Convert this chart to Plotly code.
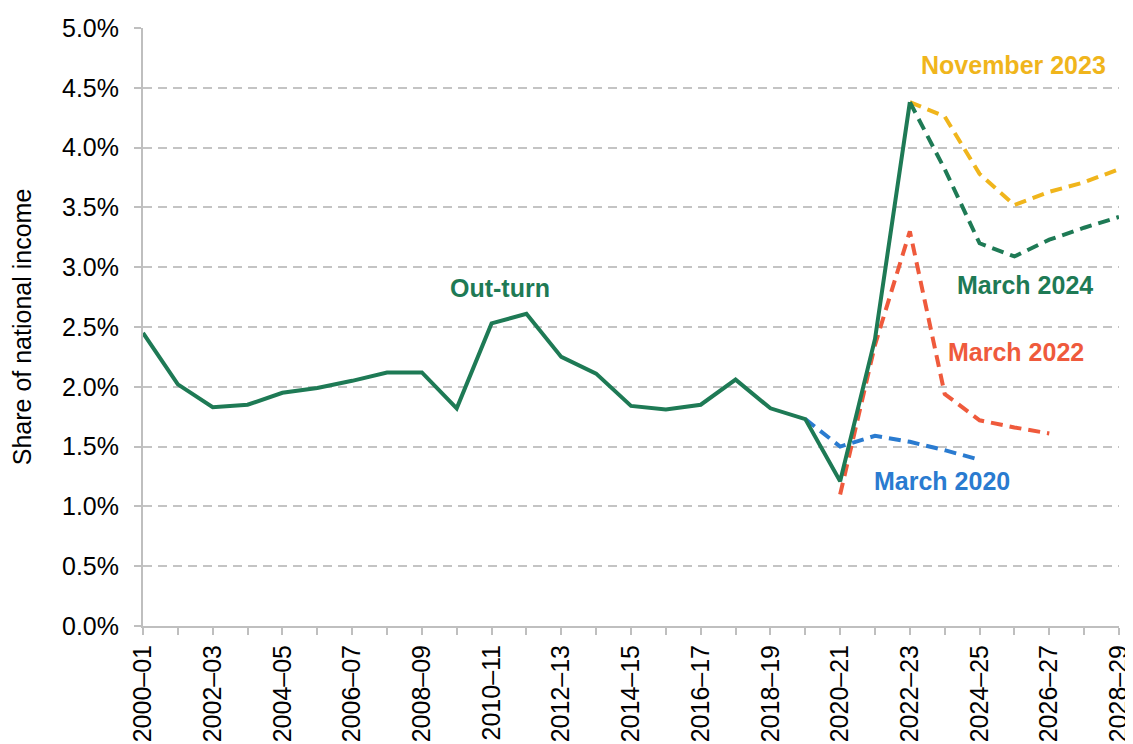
import plotly.graph_objects as go

years = [f"{y}–{str(y + 1)[-2:]}" for y in range(2000, 2029)]

outturn = [2.45, 2.02, 1.83, 1.85, 1.95, 1.99, 2.05, 2.12, 2.12, 1.82,
           2.53, 2.61, 2.25, 2.11, 1.84, 1.81, 1.85, 2.06, 1.82, 1.73,
           1.21, 2.40, 4.38]

march2020_years = years[19:25]
march2020 = [1.73, 1.50, 1.59, 1.54, 1.47, 1.39]

march2022_years = years[20:27]
march2022 = [1.10, 2.35, 3.30, 1.94, 1.72, 1.66, 1.61]

nov2023_years = years[22:29]
nov2023 = [4.38, 4.26, 3.78, 3.52, 3.63, 3.71, 3.82]

march2024_years = years[22:29]
march2024 = [4.38, 3.82, 3.20, 3.09, 3.23, 3.33, 3.42]

GREEN = "#1e7a55"
BLUE = "#2a7bd0"
RED = "#ef5a3c"
YELLOW = "#f0b51c"

idx = {y: i for i, y in enumerate(years)}

fig = go.Figure()


def add_line(xs, ys, color, dash):
    fig.add_trace(go.Scatter(
        x=[idx[x] for x in xs], y=ys, mode="lines",
        line=dict(color=color, width=4, dash=dash),
        showlegend=False, hoverinfo="skip"
    ))


add_line(march2020_years, march2020, BLUE, "12px,7px")
add_line(march2022_years, march2022, RED, "12px,7px")
add_line(nov2023_years, nov2023, YELLOW, "12px,7px")
add_line(march2024_years, march2024, GREEN, "12px,7px")
add_line(years[:len(outturn)], outturn, GREEN, "solid")

labels = [
    ("Out-turn", 10.24, 2.83, GREEN),
    ("November 2023", 24.96, 4.69, YELLOW),
    ("March 2024", 25.3, 2.85, GREEN),
    ("March 2022", 25.04, 2.29, RED),
    ("March 2020", 22.92, 1.21, BLUE),
]
for text, xv, yv, color in labels:
    fig.add_annotation(x=xv, y=yv, text=f"<b>{text}</b>", showarrow=False,
                       font=dict(color=color, size=25))

fig.update_layout(
    width=1125, height=736,
    margin=dict(l=135, r=14, t=20, b=118),
    plot_bgcolor="white", paper_bgcolor="white",
    font=dict(family="Liberation Sans, Arial, sans-serif", size=25, color="#000"),
)

fig.update_xaxes(
    range=[0, 28], tickmode="array", automargin=False,
    tickvals=list(range(0, 29, 2)), ticktext=years[::2],
    tickangle=-90, ticks="outside", ticklen=7, tickcolor="#bfbfbf", tickwidth=2,
    minor=dict(dtick=1, ticks="outside", ticklen=7, tickcolor="#bfbfbf", tickwidth=2),
    showgrid=False, showline=True, linecolor="#bfbfbf", linewidth=2,
    zeroline=False, tickfont=dict(size=25),
)
fig.update_yaxes(
    range=[0, 5], dtick=0.5, tickformat=".1f", ticksuffix="%", automargin=False,
    showgrid=True, gridcolor="#c4c4c4", griddash="9px,6px", gridwidth=2,
    ticks="outside", ticklen=7, tickcolor="#bfbfbf", tickwidth=2,
    ticklabelstandoff=10,
    showline=True, linecolor="#bfbfbf", linewidth=2, zeroline=False,
    title=dict(text="Share of national income", font=dict(size=25), standoff=24),
    tickfont=dict(size=25),
)

fig.write_html("out.html")
